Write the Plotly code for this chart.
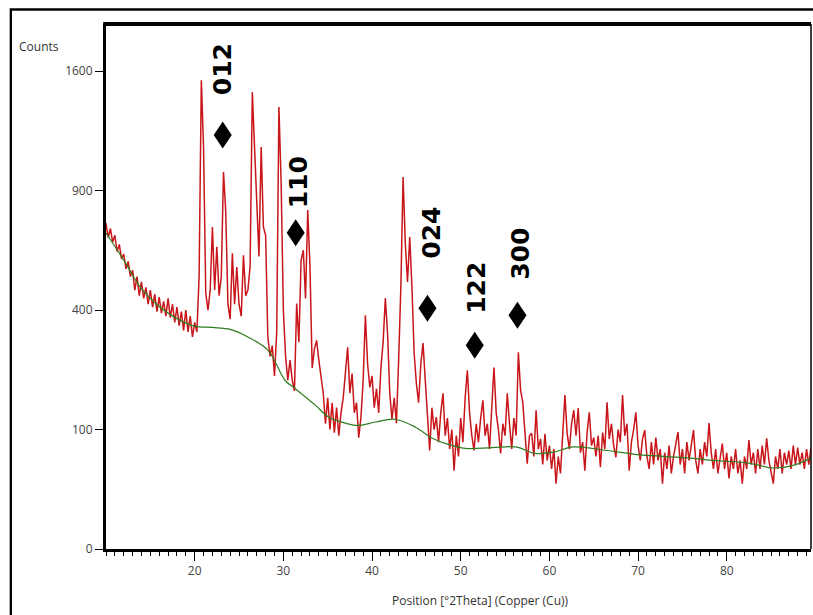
import numpy as np
import plotly.graph_objects as go

# ---- XRD scan (Cu K-alpha), step 0.25 deg 2theta starting at 10 deg ----
scan_start = 10.0
scan_step = 0.25
counts = [
    745, 680, 720, 660,   # 10
    690, 620, 650, 590,   # 11
    610, 550, 580, 520,   # 12
    545, 470, 520, 450,   # 13
    500, 440, 480, 420,   # 14
    470, 410, 455, 395,   # 15
    445, 390, 430, 380,   # 16
    440, 375, 420, 360,   # 17
    410, 350, 395, 335,   # 18
    400, 330, 380, 315,   # 19
    360, 330, 520, 1540,  # 20
    1130, 460, 400, 470,  # 21
    727, 470, 640, 450,   # 22
    520, 996, 800, 420,   # 23
    370, 613, 420, 557,   # 24
    420, 380, 605, 450,   # 25
    470, 560, 1463, 1100, # 26
    836, 600, 1133, 727,  # 27
    690, 315, 260, 290,   # 28
    210, 330, 1370, 940,  # 29
    400, 260, 200, 250,   # 30
    200, 175, 422, 300,   # 31
    584, 626, 440, 805,   # 32
    560, 230, 280, 305,   # 33
    250, 200, 170, 110,   # 34
    160, 100, 150, 95,    # 35
    140, 90, 130, 160,    # 36
    220, 285, 170, 216,   # 37
    130, 150, 87, 122,    # 38
    200, 383, 240, 183,   # 39
    210, 140, 180, 130,   # 40
    230, 300, 441, 326,   # 41
    170, 118, 160, 111,   # 42
    250, 481, 970, 656,   # 43
    500, 682, 480, 268,   # 44
    192, 150, 240, 297,   # 45
    200, 130, 68, 140,    # 46
    100, 122, 80, 130,    # 47
    170, 90, 120, 70,     # 48
    100, 43, 90, 60,      # 49
    120, 80, 160, 224,    # 50
    130, 90, 68, 110,     # 51
    80, 120, 155, 90,     # 52
    110, 70, 150, 231,    # 53
    130, 100, 64, 110,    # 54
    90, 170, 110, 70,     # 55
    120, 90, 271, 177,    # 56
    150, 100, 51, 90,     # 57
    94, 60, 135, 70,      # 58
    85, 50, 93, 55,       # 59
    75, 45, 70, 30,       # 60
    60, 40, 90, 166,      # 61
    94, 70, 110, 135,     # 62
    90, 139, 65, 80,      # 63
    43, 95, 131, 75,      # 64
    87, 60, 90, 47,       # 65
    95, 70, 151, 85,      # 66
    110, 75, 59, 100,     # 67
    80, 166, 90, 110,     # 68
    43, 80, 100, 131,     # 69
    75, 55, 85, 99,       # 70
    60, 45, 80, 50,       # 71
    87, 55, 70, 30,       # 72
    65, 45, 75, 40,       # 73
    60, 80, 96, 50,       # 74
    70, 40, 80, 55,       # 75
    75, 99, 55, 40,       # 76
    70, 50, 80, 60,       # 77
    111, 65, 45, 70,      # 78
    40, 60, 78, 45,       # 79
    65, 35, 60, 45,       # 80
    70, 40, 55, 30,       # 81
    60, 45, 83, 50,       # 82
    65, 40, 70, 45,       # 83
    75, 50, 86, 55,       # 84
    40, 30, 60, 45,       # 85
    70, 40, 65, 50,       # 86
    68, 45, 75, 50,       # 87
    72, 50, 65, 45,       # 88
    70, 50, 72,           # 89
]
two_theta = [scan_start + scan_step * i for i in range(len(counts))]

# ---- fitted background (green) ----
bg_theta = [10, 12, 14, 16, 18, 20, 22, 24, 26, 28.3, 30.2, 31.3, 33.6, 35.1, 37.0,
            38.4, 40.4, 42.6, 44.9, 46.8, 48.5, 50.5, 53.5, 56.2, 58.4, 60.5, 62.7,
            66.5, 70.3, 75.9, 78.5, 82.3, 85.3, 87.5, 89.5]
bg_counts = [700, 585, 475, 412, 372, 348, 344, 338, 315, 276, 199, 181, 145, 122, 111,
             107, 113, 118, 104, 86, 77, 71, 72, 73, 64, 66, 73,
             68, 62, 58, 55, 52, 46, 49, 58]

# ---- reflections (hkl) ----
hkl_labels = ["012", "110", "024", "122", "300"]
hkl_theta = [23.16, 31.39, 46.25, 51.58, 56.40]
hkl_marker_counts = [1201, 701, 406, 291, 383]
hkl_label_theta = [23.10, 31.68, 46.73, 51.69, 56.66]
hkl_label_counts = [1615, 944, 700, 477, 610]

# ---- axes ----
y_tick_counts = [0, 100, 400, 900, 1600]
x_tick_vals = [20, 30, 40, 50, 60, 70, 80]
x_range = [10, 89.5]
y_top_counts = 1932

tick_font = dict(family="Open Sans", size=12, color="#444444")

fig = go.Figure()
fig.add_trace(go.Scatter(
    x=two_theta, y=np.sqrt(counts), mode="lines",
    line=dict(color="#c8161a", width=1.5), hoverinfo="skip", showlegend=False))
fig.add_trace(go.Scatter(
    x=bg_theta, y=np.sqrt(bg_counts), mode="lines",
    line=dict(color="#2f7d1f", width=1.2, shape="spline", smoothing=1.0),
    hoverinfo="skip", showlegend=False))

shapes = []
for t, c in zip(hkl_theta, hkl_marker_counts):
    shapes.append(dict(type="path", xref="x", yref="y",
                       xsizemode="pixel", ysizemode="pixel",
                       xanchor=t, yanchor=float(np.sqrt(c)),
                       path="M0,13.5 L9,0 L0,-13.5 L-9,0 Z",
                       fillcolor="black", line=dict(width=0)))
# frame lines
shapes.append(dict(type="line", xref="paper", yref="paper", x0=-0.004, x1=1.0, y0=1, y1=1,
                   line=dict(color="black", width=4)))
shapes.append(dict(type="line", xref="paper", yref="paper", x0=1.0, x1=1.0, y0=0, y1=1,
                   line=dict(color="black", width=1.5)))
shapes.append(dict(type="rect", xref="paper", yref="paper", x0=-0.135, x1=1.06, y0=-0.2, y1=1.0276,
                   line=dict(color="black", width=2.3), fillcolor="rgba(0,0,0,0)"))

annotations = []
for lab, t, c in zip(hkl_labels, hkl_label_theta, hkl_label_counts):
    annotations.append(dict(x=t, y=float(np.sqrt(c)), xref="x", yref="y", text=lab,
                            textangle=-90, showarrow=False, xanchor="center", yanchor="middle",
                            font=dict(family="DejaVu Sans", size=25, color="black", weight=700)))
annotations.append(dict(x=-0.126, y=0.958, xref="paper", yref="paper", text="Counts",
                        showarrow=False, xanchor="left", yanchor="middle",
                        font=dict(family="Open Sans", size=12, color="#333333")))
annotations.append(dict(x=0.5305, y=-0.099, xref="paper", yref="paper",
                        text="Position [°2Theta] (Copper (Cu))",
                        showarrow=False, xanchor="center", yanchor="middle",
                        font=dict(family="Open Sans", size=12, color="#333333")))

fig.update_layout(
    width=813, height=615,
    margin=dict(l=106, r=2, t=24, b=66),
    paper_bgcolor="white", plot_bgcolor="white",
    shapes=shapes, annotations=annotations, showlegend=False,
    xaxis=dict(range=x_range, tickmode="array", tickvals=x_tick_vals,
               ticks="outside", ticklen=9, tickwidth=1, tickcolor="black",
               minor=dict(ticks="outside", tickmode="linear", tick0=0, dtick=1,
                          ticklen=4, tickwidth=1, tickcolor="black", showgrid=False),
               showline=True, linecolor="black", linewidth=3,
               showgrid=False, zeroline=False, tickfont=tick_font),
    yaxis=dict(range=[0, float(np.sqrt(y_top_counts))], tickmode="array",
               tickvals=[float(np.sqrt(v)) for v in y_tick_counts],
               ticktext=[str(v) for v in y_tick_counts],
               ticks="outside", ticklen=8, tickwidth=1, tickcolor="black",
               showline=True, linecolor="black", linewidth=3,
               showgrid=False, zeroline=False, tickfont=tick_font),
)

fig.write_html("out.html")
